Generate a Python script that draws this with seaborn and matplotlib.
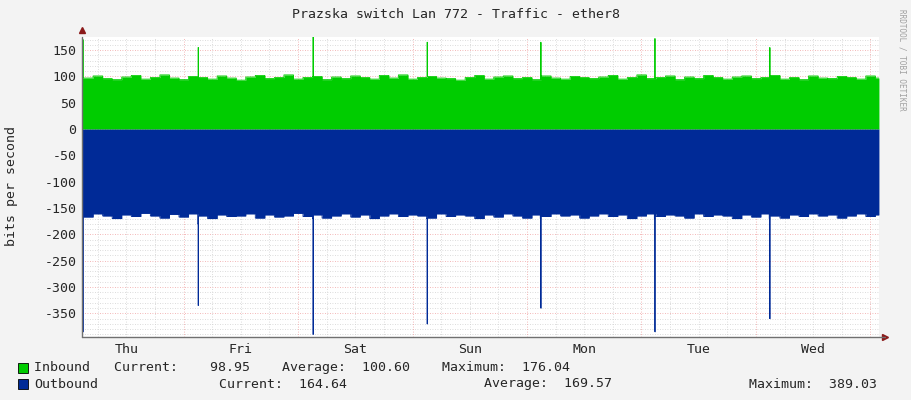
import numpy as np
import pandas as pd
import matplotlib
matplotlib.use("Agg")
import matplotlib.pyplot as plt
import seaborn as sns

# Datos (horas desde el jueves 00:00, pasos de 2 h)
base_hours = list(range(3, 171, 2))
inbound_base = [97, 101, 96, 94, 99, 102, 95, 98, 103, 97, 94, 100, 98, 95, 101, 97, 93, 99, 102, 96,
                98, 103, 95, 98, 100, 94, 99, 96, 101, 98, 95, 102, 97, 103, 95, 98, 100, 97, 96, 93,
                98, 102, 95, 99, 101, 96, 98, 94, 101, 97, 95, 100, 98, 96, 99, 102, 95, 98, 103, 96,
                98, 101, 94, 99, 96, 102, 98, 95, 99, 101, 96, 98, 102, 95, 98, 94, 101, 97, 96, 100,
                98, 95, 101, 97]
outbound_base = [-167, -161, -165, -170, -163, -166, -160, -165, -169, -162, -167, -161, -165, -170, -163, -166,
                 -165, -161, -169, -163, -167, -165, -160, -166, -163, -169, -165, -161, -167, -163, -170, -165,
                 -161, -166, -163, -165, -169, -161, -166, -163, -165, -170, -163, -167, -161, -165, -169, -163,
                 -166, -161, -165, -163, -169, -165, -161, -166, -163, -170, -165, -161, -166, -163, -165, -169,
                 -161, -166, -163, -165, -170, -163, -167, -161, -165, -169, -163, -166, -161, -165, -163, -169,
                 -165, -161, -166, -163]
spike_hours = [2.9, 27.0, 51.1, 75.0, 98.9, 122.8, 146.9]
spike_in = [170, 155, 175, 165, 165, 172, 155]
spike_out = [-385, -335, -390, -370, -340, -385, -360]
shoulder_out = [-170, -180, -170, -170, -170, -170, -170]
day_labels = ["Thu", "Fri", "Sat", "Sun", "Mon", "Tue", "Wed"]

step = 1 / 12
t = np.arange(2.7, 169.8, step)
idx = np.clip(np.searchsorted(base_hours, t) - 1, 0, len(base_hours) - 1)
inb = np.array(inbound_base, float)[idx]
outb = np.array(outbound_base, float)[idx]
for h, si, so, sh in zip(spike_hours, spike_in, spike_out, shoulder_out):
    k = int(np.argmin(np.abs(t - h)))
    inb[k] = si
    outb[k] = so
    outb[max(k - 1, 0)] = sh
df = pd.DataFrame({"hora": t, "Inbound": inb, "Outbound": outb})

sns.set_style("white")
plt.rcParams["font.family"] = ["DejaVu Sans Mono"]
fig = plt.figure(figsize=(9.11, 4), dpi=100, facecolor="#F3F3F3")
ax = fig.add_axes([82 / 911, 63 / 400, 797 / 911, 300 / 400])
ax.set_facecolor("white")

x0, x1 = 2.7, 169.8
ax.set_xlim(x0, x1)
ax.set_ylim(-395, 175)

# rejilla
for y in range(-390, 176, 10):
    col = "#F0A0A0" if y % 50 == 0 else "#D0D0D0"
    ax.axhline(y, color=col, lw=0.6, ls=(0, (1, 2)), zorder=0)
for h in range(6, 170, 6):
    col = "#F0A0A0" if h % 24 == 0 else "#D0D0D0"
    ax.axvline(h, color=col, lw=0.6, ls=(0, (1, 2)), zorder=0)

ax.fill_between(df["hora"], 0, df["Inbound"], step="post", color="#00CC00", lw=0, zorder=2)
ax.fill_between(df["hora"], 0, df["Outbound"], step="post", color="#002A97", lw=0, zorder=2)
sns.lineplot(data=df, x="hora", y="Inbound", drawstyle="steps-post", color="#00CC00", lw=0.6, ax=ax, zorder=3)
sns.lineplot(data=df, x="hora", y="Outbound", drawstyle="steps-post", color="#002A97", lw=0.6, ax=ax, zorder=3)

ax.set_yticks(range(-350, 151, 50))
ax.set_yticklabels([str(v) for v in range(-350, 151, 50)], fontsize=9.5)
ax.set_xticks([12 + 24 * i for i in range(7)])
ax.set_xticklabels(day_labels, fontsize=9.5)
ax.tick_params(length=0, pad=4)
ax.set_xlabel("")
ax.set_ylabel("")
fig.text(12 / 911, 1 - 186 / 400, "bits per second", rotation=90, ha="center", va="center", fontsize=9.5)
for s in ax.spines.values():
    s.set_visible(False)
ax.plot([0, 0], [0, 1], transform=ax.transAxes, color="#707070", lw=1, clip_on=False, zorder=5)
ax.plot([0, 1.0075], [0, 0], transform=ax.transAxes, color="#707070", lw=1, clip_on=False, zorder=5)
ax.plot(0, 1.025, marker="^", color="#8B1A1A", ms=5, transform=ax.transAxes, clip_on=False)
ax.plot(1.0075, 0, marker=">", color="#8B1A1A", ms=5, transform=ax.transAxes, clip_on=False)

fig.text(0.5, 1 - 14 / 400, "Prazska switch Lan 772 - Traffic - ether8", ha="center", va="center", fontsize=9.5)
fig.text(902 / 911, 1 - 60 / 400, "RRDTOOL / TOBI OETIKER", rotation=270, ha="center", va="center",
         fontsize=5.5, color="#A0A0A0")

fs = 9.5
for yy, col in [(368, "#00CC00"), (384, "#002A97")]:
    fig.patches.append(plt.Rectangle((18 / 911, 1 - (yy + 5) / 400), 10 / 911, 10 / 400,
                                     transform=fig.transFigure, facecolor=col, edgecolor="black", lw=0.6))
fig.text(34 / 911, 1 - 368 / 400, "Inbound   Current:    98.95    Average:  100.60    Maximum:  176.04",
         va="center", fontsize=fs)
fig.text(34 / 911, 1 - 384 / 400, "Outbound", va="center", fontsize=fs)
fig.text(219 / 911, 1 - 384 / 400, "Current:  164.64", va="center", fontsize=fs)
fig.text(484 / 911, 1 - 384 / 400, "Average:  169.57", va="center", fontsize=fs)
fig.text(749 / 911, 1 - 384 / 400, "Maximum:  389.03", va="center", fontsize=fs)

fig.savefig("out.png", dpi=100, facecolor=fig.get_facecolor())
